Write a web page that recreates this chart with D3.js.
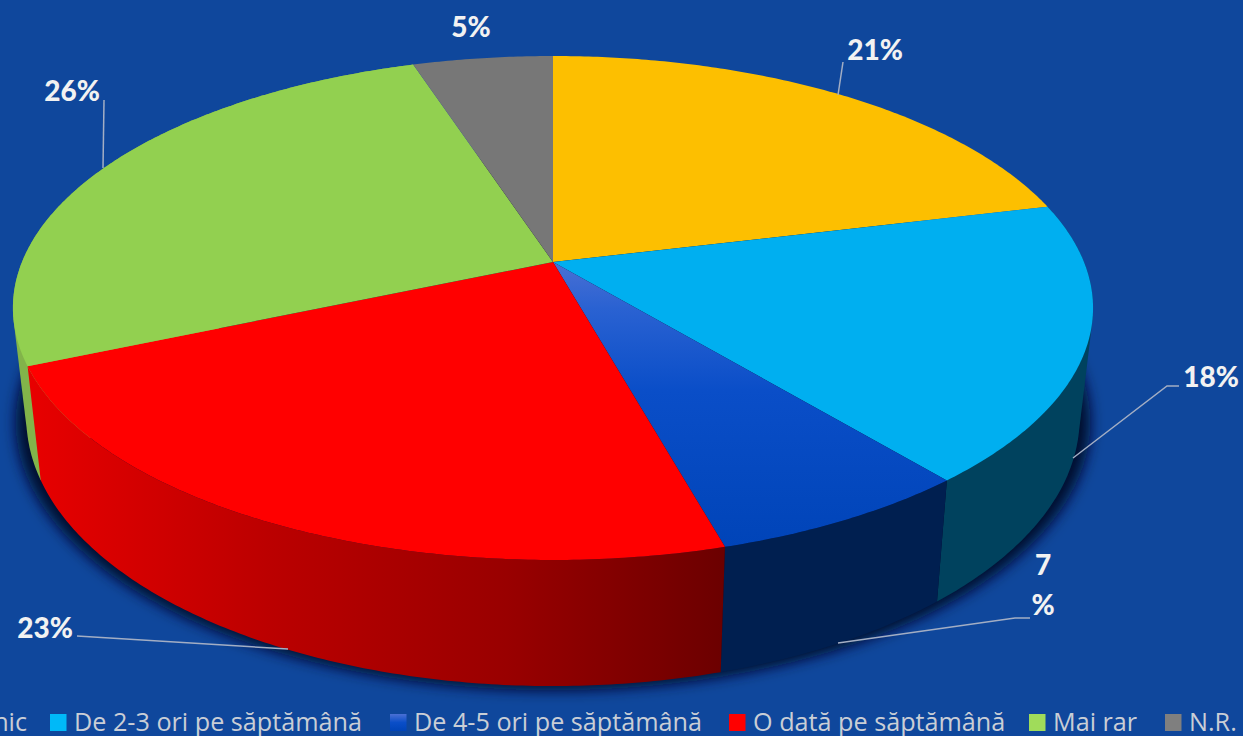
<!DOCTYPE html>
<html><head><meta charset="utf-8">
<script src="https://cdn.jsdelivr.net/npm/d3@7"></script>
<style>html,body{margin:0;padding:0;background:#0f479c;overflow:hidden}svg{display:block}</style>
</head><body><svg id="c" width="1243" height="736"></svg>
<script>
const categories = ["Zilnic","De 2-3 ori pe săptămână","De 4-5 ori pe săptămână","O dată pe săptămână","Mai rar","N.R."];
const values = [21.2,17.8,6.7,22.8,26.5,5.0];
const topColors = ["#fdbf00","#00aff0","url(#gBlue)","#ff0000","#92d050","#777777"];
const wallColors = ["#a07a00","#00425e","#001f50","url(#gRed)","#82b44a","#555555"];
const legendColors = ["#ffc000","#00b9f8","url(#gLeg)","#ff0000","#a0dc5a","#7f7f7f"];
const labelLines = [["21%"],["18%"],["7","%"],["23%"],["26%"],["5%"]];

const svg=d3.select("#c");
const defs=svg.append("defs");
function lin(id,x1,y1,x2,y2,stops){
  const g=defs.append("linearGradient").attr("id",id).attr("gradientUnits","userSpaceOnUse")
    .attr("x1",x1).attr("y1",y1).attr("x2",x2).attr("y2",y2);
  stops.forEach(s=>g.append("stop").attr("offset",s[0]).attr("stop-color",s[1]));
}
lin("gBlue",0,262,0,548,[[0,"#4a70d4"],[0.16,"#2a62d2"],[0.45,"#0a4ec8"],[1,"#0044b8"]]);
lin("gRed",27,0,722,0,[[0,"#e80000"],[0.35,"#bb0000"],[0.7,"#980000"],[1,"#6c0000"]]);
lin("gLeg",0,714,0,731,[[0,"#4a70d4"],[0.5,"#0a4ec8"],[1,"#0044b8"]]);
defs.append("filter").attr("id","blur").attr("x","-10%").attr("y","-10%").attr("width","120%").attr("height","120%")
  .append("feGaussianBlur").attr("stdDeviation",7);

// perspective projection of the unit disc
const cx=553,cy=262,k=-0.1825,cK=243.6,bK=531;
const sx=d3.scaleLinear().domain([-1,1]).range([-bK,bK]);
const sy=d3.scaleLinear().domain([-1,1]).range([-cK,cK]);
function topPt(a){
  const u=Math.sin(a),v=-Math.cos(a),w=1+k*v;
  return [cx+sx(u)/w,cy+sy(v)/w];
}
function botPt(a){
  const u=Math.sin(a),v=-Math.cos(a),w=1+k*v;
  return [cx+0.975*sx(u)/w,cy+107.6+1.062*sy(v)/w];
}
const arcs=d3.pie().sort(null).value(d=>d).startAngle(0).endAngle(2*Math.PI)(values);
function sample(a0,a1,f){
  const n=Math.max(2,Math.ceil((a1-a0)/0.01)),pts=[];
  d3.range(n+1).forEach(i=>pts.push(f(a0+(a1-a0)*i/n)));
  return pts;
}
const line=d3.line();

// shadow under the pie: the lower disc, slightly widened
svg.append("path")
  .attr("d",line(sample(0,2*Math.PI,botPt).map(p=>[cx+(p[0]-cx)*1.02,p[1]+4]))+"Z")
  .attr("fill","#00102e").attr("filter","url(#blur)");

// walls: back to front
[4,1,2,3].forEach(i=>{
  const d=arcs[i];
  const raw=sample(d.startAngle,d.endAngle,topPt).concat(sample(d.startAngle,d.endAngle,botPt).reverse());
  const pts=(i===4||i===1)?d3.polygonHull(raw):raw;
  svg.append("path").attr("d",line(pts)+"Z").attr("fill",wallColors[i]);
});
// top slices
arcs.forEach((d,i)=>{
  const pts=[[cx,cy]].concat(sample(d.startAngle,d.endAngle,topPt));
  svg.append("path").attr("d",line(pts)+"Z").attr("fill",topColors[i]);
});

// leader lines
const leaders=[
  [[843,62],[838,95]],
  [[1179,386],[1167,386],[1073,458]],
  [[1030,618],[1015,618],[838,643]],
  [[77,636],[288,649]],
  [[104,100],[103,168]]
];
leaders.forEach(p=>svg.append("path").attr("d",line(p)).attr("fill","none")
  .attr("stroke","#a3aec4").attr("stroke-width",1.5));

// data labels
const labelXY=[[875,60],[1211,387],[1043,575],[45,638],[72,101],[471,37]];
labelLines.forEach((lines,i)=>{
  lines.forEach((t,j)=>{
    svg.append("text").attr("x",labelXY[i][0]).attr("y",labelXY[i][1]+j*40)
      .attr("text-anchor","middle").attr("font-family",'"Lato","Open Sans",sans-serif').attr("font-weight",900)
      .attr("font-size",28).attr("fill","#f2f2f2").text(t);
  });
});

// legend
const legendX=[-58,50,390,729,1029,1165];
categories.forEach((c,i)=>{
  svg.append("rect").attr("x",legendX[i]).attr("y",714).attr("width",16.5).attr("height",17).attr("fill",legendColors[i]);
  svg.append("text").attr("x",legendX[i]+24).attr("y",731)
    .attr("font-family",'"Open Sans","Noto Sans",sans-serif').attr("font-size",25.2)
    .attr("fill","#c9ced6").text(c);
});
</script></body></html>
